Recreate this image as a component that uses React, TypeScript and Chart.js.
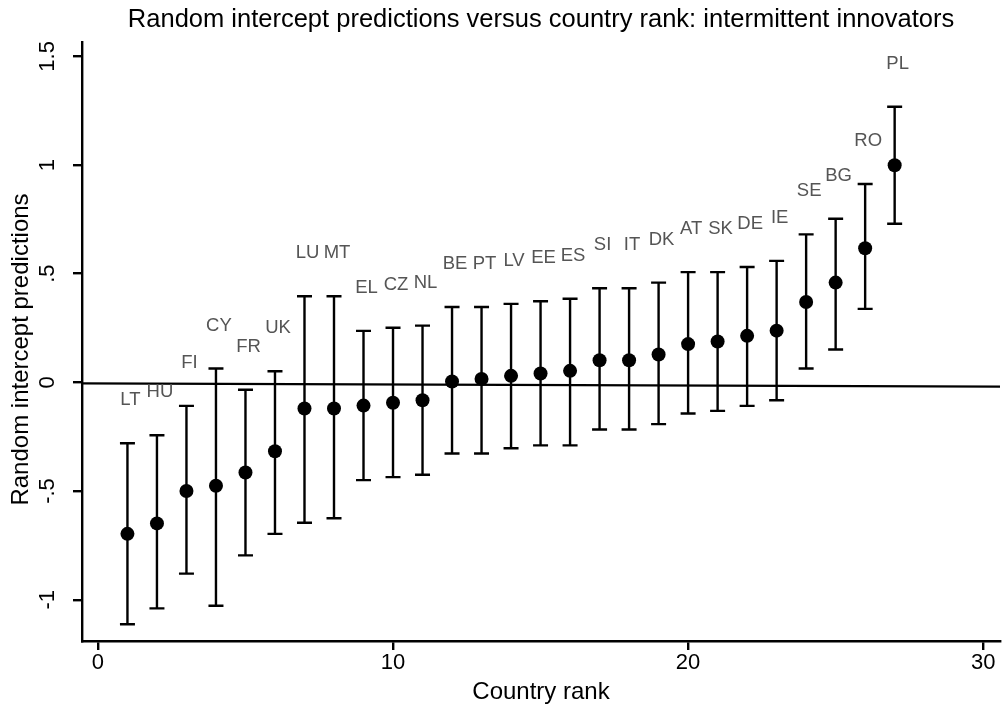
import React, { useEffect, useRef } from 'react';
import { Chart, registerables } from 'chart.js';

Chart.register(...registerables);

const countries = ['LT', 'HU', 'FI', 'CY', 'FR', 'UK', 'LU', 'MT', 'EL', 'CZ', 'NL', 'BE', 'PT', 'LV', 'EE', 'ES', 'SI', 'IT', 'DK', 'AT', 'SK', 'DE', 'IE', 'SE', 'BG', 'RO', 'PL'];
const ranks = [1, 2, 3, 4, 5, 6, 7, 8, 9, 10, 11, 12, 13, 14, 15, 16, 17, 18, 19, 20, 21, 22, 23, 24, 25, 26, 27];
const estimates = [-0.697, -0.649, -0.5, -0.476, -0.415, -0.317, -0.12, -0.12, -0.107, -0.094, -0.082, 0.004, 0.016, 0.03, 0.041, 0.053, 0.102, 0.102, 0.128, 0.176, 0.188, 0.214, 0.238, 0.37, 0.459, 0.617, 0.999];
const upperBounds = [-0.28, -0.243, -0.108, 0.064, -0.034, 0.051, 0.396, 0.396, 0.237, 0.251, 0.261, 0.347, 0.347, 0.361, 0.373, 0.385, 0.433, 0.433, 0.459, 0.507, 0.507, 0.531, 0.559, 0.681, 0.753, 0.913, 1.268];
const lowerBounds = [-1.113, -1.04, -0.88, -1.028, -0.796, -0.697, -0.646, -0.625, -0.45, -0.436, -0.425, -0.327, -0.327, -0.303, -0.29, -0.29, -0.217, -0.217, -0.192, -0.143, -0.131, -0.108, -0.082, 0.064, 0.151, 0.338, 0.73];
const refLineX = [-0.54, 30.57];
const refLineY = [-0.005, -0.02];
const xTicks = [0, 10, 20, 30];
const yTicks = [-1, -0.5, 0, 0.5, 1, 1.5];

const titleText = 'Random intercept predictions versus country rank: intermittent innovators';
const xTitle = 'Country rank';
const yTitle = 'Random intercept predictions';
const FONT = '"Liberation Sans", Arial, Helvetica, sans-serif';

const fmtY = (v: number) => {
  if (v === 0) return '0';
  const s = String(v);
  return s.replace('0.', '.');
};

const customDraw = {
  id: 'customDraw',
  beforeDatasetsDraw(chart: any) {
    const { ctx, scales } = chart;
    const xs = scales.x;
    const ys = scales.y;
    ctx.save();
    ctx.strokeStyle = '#000';
    ctx.lineWidth = 2.4;
    const cap = 7.5;
    for (let i = 0; i < ranks.length; i++) {
      const x = xs.getPixelForValue(ranks[i]);
      const yHi = ys.getPixelForValue(upperBounds[i]);
      const yLo = ys.getPixelForValue(lowerBounds[i]);
      ctx.beginPath();
      ctx.moveTo(x, yHi);
      ctx.lineTo(x, yLo);
      ctx.moveTo(x - cap, yHi);
      ctx.lineTo(x + cap, yHi);
      ctx.moveTo(x - cap, yLo);
      ctx.lineTo(x + cap, yLo);
      ctx.stroke();
    }
    ctx.restore();
  },
  afterDatasetsDraw(chart: any) {
    const { ctx, scales } = chart;
    const xs = scales.x;
    const ys = scales.y;
    ctx.save();
    ctx.fillStyle = '#555';
    ctx.font = `18.5px ${FONT}`;
    ctx.textAlign = 'center';
    ctx.textBaseline = 'middle';
    for (let i = 0; i < ranks.length; i++) {
      const x = xs.getPixelForValue(ranks[i]);
      const y = ys.getPixelForValue(upperBounds[i]);
      ctx.fillText(countries[i], x + 3, y - 43);
    }
    ctx.restore();
  },
  afterDraw(chart: any) {
    const { ctx, chartArea, scales } = chart;
    const xs = scales.x;
    const ys = scales.y;
    const cx = (chartArea.left + chartArea.right) / 2;
    const cy = (chartArea.top + chartArea.bottom) / 2;
    ctx.save();
    ctx.fillStyle = '#000';
    ctx.textAlign = 'center';
    ctx.textBaseline = 'middle';
    // title
    ctx.font = `25.5px ${FONT}`;
    ctx.fillText(titleText, cx, 20);
    // x title
    ctx.font = `24px ${FONT}`;
    ctx.fillText(xTitle, cx, chartArea.bottom + 51);
    // y title
    ctx.save();
    ctx.translate(21, cy + 8);
    ctx.rotate(-Math.PI / 2);
    ctx.fillText(yTitle, 0, 0);
    ctx.restore();
    // tick labels
    ctx.font = `22px ${FONT}`;
    for (const t of xTicks) {
      ctx.fillText(String(t), xs.getPixelForValue(t), chartArea.bottom + 22);
    }
    for (const t of yTicks) {
      const y = ys.getPixelForValue(t);
      ctx.save();
      ctx.translate(chartArea.left - 34, y);
      ctx.rotate(-Math.PI / 2);
      ctx.fillText(fmtY(t), 0, 0);
      ctx.restore();
    }
    ctx.restore();
  },
};

export default function App() {
  const canvasRef = useRef<HTMLCanvasElement | null>(null);

  useEffect(() => {
    if (!canvasRef.current) return;
    const chart = new Chart(canvasRef.current, {
      type: 'scatter',
      data: {
        datasets: [
          {
            label: 'ref',
            data: refLineX.map((x, i) => ({ x, y: refLineY[i] })),
            showLine: true,
            borderColor: '#000',
            borderWidth: 2.2,
            pointRadius: 0,
            order: 2,
          },
          {
            label: 'estimates',
            data: ranks.map((r, i) => ({ x: r, y: estimates[i] })),
            backgroundColor: '#000',
            borderColor: '#000',
            borderWidth: 0,
            pointRadius: 7,
            order: 1,
          },
        ],
      },
      options: {
        animation: false,
        responsive: false,
        layout: { padding: { top: 42, right: 2, left: 0, bottom: 0 } },
        plugins: {
          legend: { display: false },
          tooltip: { enabled: false },
          title: { display: false },
        },
        scales: {
          x: {
            type: 'linear',
            min: -0.54,
            max: 30.57,
            afterBuildTicks: (scale: any) => {
              scale.ticks = xTicks.map((v) => ({ value: v }));
            },
            afterFit: (scale: any) => {
              scale.height = 72;
              scale.paddingLeft = 0;
              scale.paddingRight = 0;
            },
            ticks: { display: false },
            grid: {
              display: true,
              drawOnChartArea: false,
              drawTicks: true,
              tickLength: 9,
              color: '#000',
              lineWidth: 2.4,
            },
            border: { display: true, color: '#000', width: 2.4 },
          },
          y: {
            type: 'linear',
            min: -1.19,
            max: 1.566,
            afterBuildTicks: (scale: any) => {
              scale.ticks = yTicks.map((v) => ({ value: v }));
            },
            afterFit: (scale: any) => {
              scale.width = 82;
              scale.paddingTop = 0;
              scale.paddingBottom = 0;
            },
            ticks: { display: false },
            grid: {
              display: true,
              drawOnChartArea: false,
              drawTicks: true,
              tickLength: 9,
              color: '#000',
              lineWidth: 2.4,
            },
            border: { display: true, color: '#000', width: 2.4 },
          },
        },
      },
      plugins: [customDraw],
    });
    return () => chart.destroy();
  }, []);

  return (
    <div style={{ position: 'absolute', left: 0, top: 0, width: 1007, height: 713, background: '#fff' }}>
      <canvas ref={canvasRef} width={1007} height={713} style={{ display: 'block' }} />
    </div>
  );
}
